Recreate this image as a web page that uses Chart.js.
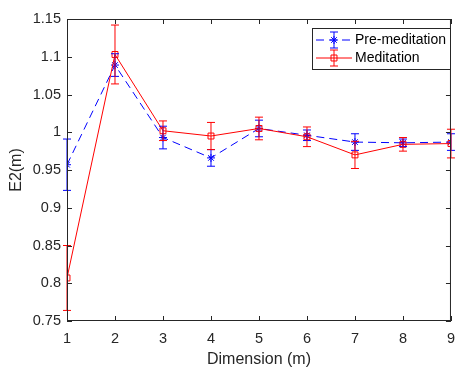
<!DOCTYPE html>
<html>
<head>
<meta charset="utf-8">
<script src="https://cdn.jsdelivr.net/npm/chart.js@4"></script>
<style>
  html, body { margin: 0; padding: 0; background: #fff; }
  #wrap { width: 464px; height: 369px; }
</style>
</head>
<body>
<div id="wrap"><canvas id="myChart" width="464" height="369"></canvas></div>
<script>
// values
var dims = [1, 2, 3, 4, 5, 6, 7, 8, 9];
var preMed = [0.957, 1.089, 0.993, 0.966, 1.005, 0.996, 0.987, 0.986, 0.987];
var preErr = [0.034, 0.015, 0.015, 0.011, 0.011, 0.007, 0.011, 0.005, 0.011];
var med = [0.807, 1.103, 1.002, 0.995, 1.005, 0.994, 0.970, 0.984, 0.985];
var medErr = [0.043, 0.039, 0.013, 0.018, 0.015, 0.013, 0.018, 0.009, 0.019];
var seriesNames = ["Pre-meditation", "Meditation"];

var axisColor = "#262626";
var fontFam = "'Liberation Sans', Arial, sans-serif";

function toPoints(ys){
  var pts = [];
  for(var i = 0; i < dims.length; i++){
    pts.push({x: dims[i], y: ys[i]});
  }
  return pts;
}

// error bars, inward ticks on all four sides, box and legend
var matlabLook = {
  id: "matlabLook",
  afterDatasetsDraw: function(chart){
    var ctx = chart.ctx;
    var xs = chart.scales.x, ys = chart.scales.y;
    var area = chart.chartArea;

    // error bars
    chart.data.datasets.forEach(function(ds){
      ctx.save();
      ctx.strokeStyle = ds.borderColor;
      ctx.lineWidth = 1;
      for(var i = 0; i < ds.data.length; i++){
        var px = xs.getPixelForValue(ds.data[i].x);
        var top = ys.getPixelForValue(ds.data[i].y + ds.errors[i]);
        var bot = ys.getPixelForValue(ds.data[i].y - ds.errors[i]);
        ctx.beginPath();
        ctx.moveTo(px, top); ctx.lineTo(px, bot);
        ctx.moveTo(px - 4, top); ctx.lineTo(px + 4, top);
        ctx.moveTo(px - 4, bot); ctx.lineTo(px + 4, bot);
        ctx.stroke();
      }
      ctx.restore();
    });

    // box + ticks
    ctx.save();
    ctx.strokeStyle = axisColor;
    ctx.lineWidth = 1;
    ctx.strokeRect(area.left + 0.5, area.top + 0.5, area.right - area.left - 1, area.bottom - area.top - 1);
    var tl = 5;
    ctx.beginPath();
    xs.ticks.forEach(function(t, i){
      var px = Math.round(xs.getPixelForTick(i)) + 0.5;
      ctx.moveTo(px, area.bottom); ctx.lineTo(px, area.bottom - tl);
      ctx.moveTo(px, area.top); ctx.lineTo(px, area.top + tl);
    });
    ys.ticks.forEach(function(t, i){
      var py = Math.round(ys.getPixelForTick(i)) + 0.5;
      ctx.moveTo(area.left, py); ctx.lineTo(area.left + tl, py);
      ctx.moveTo(area.right, py); ctx.lineTo(area.right - tl, py);
    });
    ctx.stroke();
    ctx.restore();

    // legend
    var lx = 312, ly = 28, lw = 138, lh = 41;
    ctx.save();
    ctx.fillStyle = "#fff";
    ctx.fillRect(lx, ly, lw, lh);
    ctx.strokeStyle = axisColor;
    ctx.lineWidth = 1;
    ctx.strokeRect(lx + 0.5, ly + 0.5, lw, lh);
    chart.data.datasets.forEach(function(ds, k){
      var cy = ly + 12 + k * 18;
      ctx.strokeStyle = ds.borderColor;
      ctx.lineWidth = 1;
      ctx.setLineDash(ds.borderDash || []);
      ctx.beginPath();
      ctx.moveTo(lx + 4, cy); ctx.lineTo(lx + 40, cy);
      ctx.stroke();
      ctx.setLineDash([]);
      ctx.beginPath();
      ctx.moveTo(lx + 22, cy - 8); ctx.lineTo(lx + 22, cy + 8);
      ctx.moveTo(lx + 18, cy - 8); ctx.lineTo(lx + 26, cy - 8);
      ctx.moveTo(lx + 18, cy + 8); ctx.lineTo(lx + 26, cy + 8);
      ctx.stroke();
      ctx.fillStyle = ds.backgroundColor;
      Chart.helpers.drawPoint(ctx, {
        pointStyle: ds.pointStyle, radius: ds.pointRadius, borderWidth: 1, rotation: 0
      }, lx + 22, cy);
      ctx.fillStyle = "#000";
      ctx.font = "14px " + fontFam;
      ctx.textBaseline = "middle";
      ctx.textAlign = "left";
      ctx.fillText(ds.label, lx + 43, cy);
    });
    ctx.restore();
  }
};

var ctx = document.getElementById("myChart").getContext("2d");
var chart = new Chart(ctx, {
  type: "line",
  data: {
    datasets: [
      {
        label: seriesNames[0],
        data: toPoints(preMed),
        errors: preErr,
        borderColor: "#0000ff",
        backgroundColor: "#0000ff",
        borderWidth: 1,
        borderDash: [8, 5],
        pointStyle: "star",
        pointRadius: 4,
        pointBorderWidth: 1,
        fill: false,
        tension: 0,
        order: 1
      },
      {
        label: seriesNames[1],
        data: toPoints(med),
        errors: medErr,
        borderColor: "#ff0000",
        backgroundColor: "rgba(0,0,0,0)",
        borderWidth: 1,
        pointStyle: "rect",
        pointRadius: 4.2,
        pointBorderWidth: 1,
        fill: false,
        tension: 0,
        order: 0
      }
    ]
  },
  options: {
    responsive: false,
    animation: false,
    devicePixelRatio: 1,
    layout: { padding: { top: 19, right: 4, left: 0, bottom: 0 } },
    plugins: {
      legend: { display: false },
      tooltip: { enabled: false }
    },
    scales: {
      x: {
        type: "linear",
        min: 1, max: 9,
        afterFit: function(s){ s.height = 48; },
        grid: { drawOnChartArea: false, drawTicks: false },
        border: { display: false },
        ticks: { stepSize: 1, padding: 9, color: axisColor, font: { size: 14.5, family: fontFam } },
        title: { display: true, text: "Dimension (m)", color: axisColor, padding: { top: 0, bottom: 0 },
                 font: { size: 16, family: fontFam } }
      },
      y: {
        min: 0.75, max: 1.15,
        afterFit: function(s){ s.width = 67; },
        grid: { drawOnChartArea: false, drawTicks: false },
        border: { display: false },
        ticks: {
          stepSize: 0.05, padding: 6, color: axisColor, font: { size: 14.5, family: fontFam },
          callback: function(v){ return String(Number(v.toFixed(2))); }
        },
        title: { display: true, text: "E2(m)", color: axisColor, padding: { top: 7, bottom: 0 },
                 font: { size: 16, family: fontFam } }
      }
    }
  },
  plugins: [matlabLook]
});
</script>
</body>
</html>
